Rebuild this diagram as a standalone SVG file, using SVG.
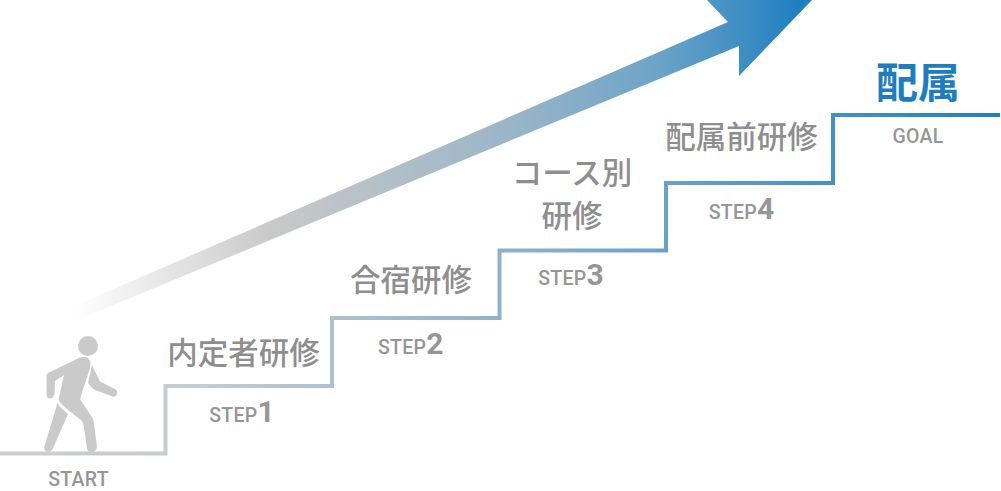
<svg xmlns="http://www.w3.org/2000/svg" width="1001" height="491" viewBox="0 0 1001 491">
<style>
.lb{font-family:"Noto Sans CJK JP","Noto Sans",sans-serif;font-weight:500;font-size:30.5px;fill:#8e8e8e;text-anchor:middle}
.st{font-family:"Roboto","Liberation Sans",sans-serif;font-weight:500;font-size:19.5px;fill:#969696;text-anchor:middle;letter-spacing:.3px}
.n{font-size:30px;font-weight:700;letter-spacing:0}
</style>
<defs>
<linearGradient id="a" gradientUnits="userSpaceOnUse" x1="75" y1="0" x2="800" y2="0">
<stop offset="0" stop-color="#fff"/><stop offset=".27" stop-color="#c9c9c9"/><stop offset=".6" stop-color="#9ab5c7"/><stop offset=".8" stop-color="#6ea4c8"/><stop offset="1" stop-color="#1e80c0"/>
</linearGradient>
<linearGradient id="l" gradientUnits="userSpaceOnUse" x1="0" y1="0" x2="1000" y2="0">
<stop offset="0" stop-color="#cdcdcd"/><stop offset=".2" stop-color="#c3ccd2"/><stop offset=".5" stop-color="#8fb2ca"/><stop offset="1" stop-color="#1e80c0"/>
</linearGradient>
</defs>
<g id="connectors">
<polygon id="growth-arrow" fill="url(#a)" points="70,308 728,22 706,-1 830,-20 812,0 739,76 739,46 77,320"/>
<path id="stairs" fill="none" stroke="url(#l)" stroke-width="4" d="M0 453.5H165.500V386H332V318H499.500V250.500H666V183H833V115H1000"/>
</g>
<g id="walker" fill="#cacaca">
<circle cx="88" cy="346" r="10"/>
<path d="M79 358Q87 355 90 361Q91 364 90 368L80 399L93 419Q94 421 94 424L97 447Q96 452 92 452Q87 452 87 448L83.500 425Q83 422 81 420L68 410Q62 405 58.500 400L64 375L55 381L54.500 394Q53 398.500 50 398.500Q47 398.500 46.500 394L46.500 376Q46.500 374 48 373Z"/>
<path d="M57.500 403Q60 408 68 414L53.500 447Q52 452 48 452Q43 451 44.500 446Z"/>
<path d="M92 365L100 381.500L115 389Q118 391 117 394Q115.500 397.500 112.500 396.500L95 390Q91 388 88 383Z"/>
</g>
<g id="start"><text class="st" x="78.500" y="485.700">START</text></g>
<g id="step1"><text class="lb" x="243.500" y="364">内定者研修</text><text class="st" x="242" y="421.500">STEP<tspan class="n">1</tspan></text></g>
<g id="step2"><text class="lb" x="411" y="291">合宿研修</text><text class="st" x="410.700" y="353.500">STEP<tspan class="n">2</tspan></text></g>
<g id="step3"><text class="lb" x="572" y="184">コース別</text><text class="lb" x="572" y="227">研修</text><text class="st" x="571" y="285">STEP<tspan class="n">3</tspan></text></g>
<g id="step4"><text class="lb" x="741.500" y="148">配属前研修</text><text class="st" x="741.500" y="218.500">STEP<tspan class="n">4</tspan></text></g>
<g id="goal"><text class="lb" x="918" y="97.500" style="font-size:42px;font-weight:700;fill:#1e7dbf">配属</text><text class="st" x="918" y="143">GOAL</text></g>
</svg>
